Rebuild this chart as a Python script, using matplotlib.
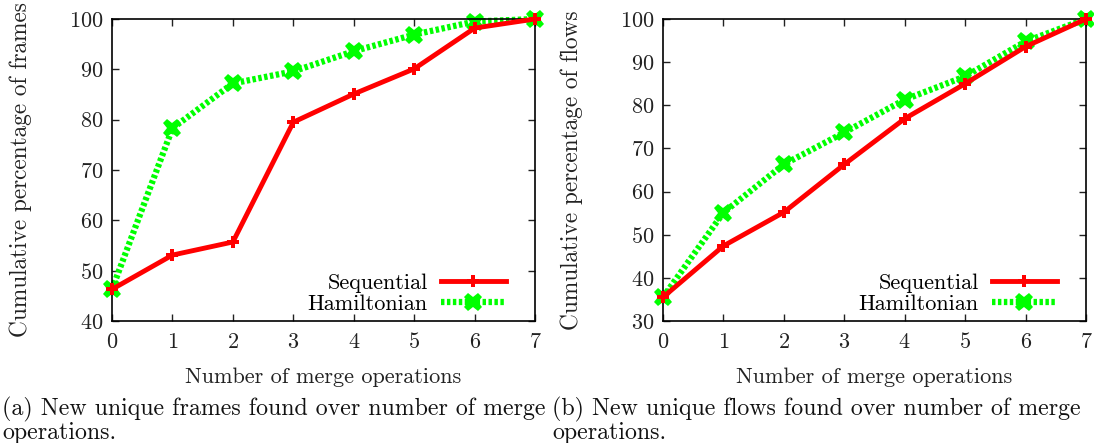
import matplotlib
matplotlib.use('Agg')
import matplotlib.pyplot as plt

plt.rcParams['font.family'] = ['cmr10', 'DejaVu Serif']
plt.rcParams['axes.formatter.use_mathtext'] = True
plt.rcParams['mathtext.fontset'] = 'cm'

merges = [0, 1, 2, 3, 4, 5, 6, 7]

# (a) frames
frames_seq = [46.3, 53.1, 55.7, 79.5, 85.1, 90.1, 98.2, 100]
frames_ham = [46.3, 78.3, 87.2, 89.6, 93.6, 96.9, 99.5, 100]

# (b) flows
flows_seq = [35.5, 47.4, 55.2, 66.3, 76.9, 85.0, 93.6, 100]
flows_ham = [35.5, 55.1, 66.3, 73.7, 81.3, 86.7, 94.8, 100]

red = '#ff0000'
green = '#00ff00'
txt = '#222222'

fig = plt.figure(figsize=(10.94, 4.43), dpi=100)
ax1 = fig.add_axes([0.1024, 0.2754, 0.3867, 0.6817])
ax2 = fig.add_axes([0.6060, 0.2754, 0.3867, 0.6817])

def panel(ax, seq, ham, ylo, ylabel):
    ax.plot(merges, seq, color=red, lw=3.5, marker='P', ms=9, mew=0,
            label='Sequential', clip_on=False, zorder=3)
    ax.plot(merges, ham, color=green, lw=4.5, ls=(0, (0.55, 0.4)), marker='X',
            ms=13, mew=0, label='Hamiltonian', clip_on=False, zorder=2)
    ax.set_xlim(0, 7)
    ax.set_ylim(ylo, 100)
    ax.set_xticks(merges)
    ax.set_yticks(range(ylo, 101, 10))
    ax.tick_params(direction='in', top=True, right=True, length=5, width=1,
                   labelsize=16, pad=8, colors=txt)
    ax.tick_params(axis='y', pad=6)
    for sp in ax.spines.values():
        sp.set_linewidth(1.2)
    ax.set_xlabel('Number of merge operations', fontsize=16, labelpad=11,
                  color=txt)
    ax.set_ylabel(ylabel, fontsize=16.8, labelpad=27, color=txt)
    ax.legend(loc='lower right', bbox_to_anchor=(0.962, -0.02), markerfirst=False,
              frameon=False, fontsize=16, handlelength=2.9, handletextpad=0.6,
              labelspacing=0.05, borderaxespad=0.2)

panel(ax1, frames_seq, frames_ham, 40, 'Cumulative percentage of frames')
panel(ax2, flows_seq, flows_ham, 30, 'Cumulative percentage of flows')

cap = 17.2
fig.text(0.002, 0.062, '(a) New unique frames found over number of merge',
         fontsize=cap, color='#111111')
fig.text(0.002, 0.01, 'operations.', fontsize=cap, color='#111111')
fig.text(0.5045, 0.062, '(b) New unique flows found over number of merge',
         fontsize=cap, color='#111111')
fig.text(0.5045, 0.01, 'operations.', fontsize=cap, color='#111111')

fig.savefig('out.png', dpi=100)
